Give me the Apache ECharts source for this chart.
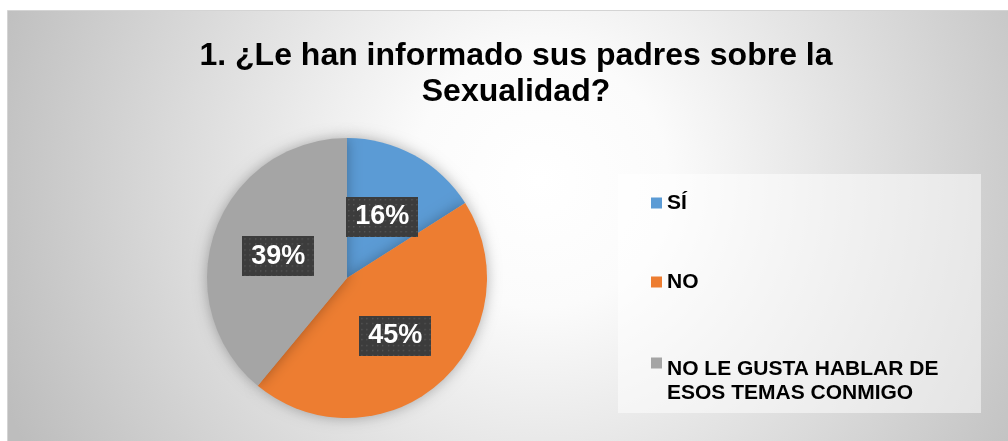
<!DOCTYPE html>
<html>
<head>
<meta charset="utf-8">
<script src="https://cdn.jsdelivr.net/npm/echarts@6/dist/echarts.min.js"></script>
<style>
html,body{margin:0;padding:0;background:#ffffff;}
#chart{width:1008px;height:441px;}
</style>
</head>
<body>
<div id="chart"></div>
<script>
var titleText = '1. ¿Le han informado sus padres sobre la\nSexualidad?';
var categories = ['SÍ', 'NO', 'NO LE GUSTA HABLAR DE\nESOS TEMAS CONMIGO'];
var values = [16, 45, 39];
var colors = ['#5B9BD5', '#ED7D31', '#A5A5A5'];

function makePattern(w, h) {
  var c = document.createElement('canvas');
  c.width = w; c.height = h;
  var ctx = c.getContext('2d');
  ctx.fillStyle = '#3c3c3c';
  ctx.fillRect(0, 0, w, h);
  ctx.fillStyle = '#575757';
  for (var y = 2; y < h; y += 5.3) {
    for (var x = 2; x < w; x += 5.3) {
      ctx.fillRect(Math.round(x), Math.round(y), 1.4, 1.4);
    }
  }
  return c;
}
var pattern = makePattern(73, 40);

var chart = echarts.init(document.getElementById('chart'));
var FONT = 'Arial, "Liberation Sans", sans-serif';

var legendTops = [191, 270, 321];
var legends = categories.map(function (name, i) {
  return {
    data: [name],
    orient: 'vertical',
    left: 651,
    top: legendTops[i],
    padding: 0,
    itemWidth: 11,
    itemHeight: 11,
    icon: 'rect',
    selectedMode: false,
    formatter: function (n) {
      var parts = n.split('\n');
      if (parts.length === 1) return '{t|' + n + '}';
      return '{gap| }\n' + parts.map(function (p) { return '{t|' + p + '}'; }).join('\n');
    },
    textStyle: {
      fontFamily: FONT,
      fontWeight: 'bold',
      fontSize: 21,
      lineHeight: 24,
      color: '#000000',
      rich: {
        t: { fontFamily: FONT, fontWeight: 'bold', fontSize: 21, lineHeight: 24, color: '#000000' },
        gap: { fontSize: 1, lineHeight: 36 }
      }
    }
  };
});

chart.setOption({
  animation: false,
  color: colors,
  graphic: [
    {
      type: 'rect',
      silent: true,
      z: -10,
      shape: { x: 7.5, y: 10.5, width: 1010, height: 440 },
      style: {
        fill: {
          type: 'radial', x: 540, y: 180, r: 580, global: true,
          colorStops: [
            { offset: 0, color: '#ffffff' },
            { offset: 0.22, color: '#fbfbfb' },
            { offset: 1, color: '#bdbdbd' }
          ]
        },
        stroke: '#d4d4d4',
        lineWidth: 1
      }
    },
    {
      type: 'rect',
      silent: true,
      z: -9,
      shape: { x: 618, y: 174, width: 363, height: 239 },
      style: { fill: 'rgba(255,255,255,0.5)' }
    }
  ],
  title: {
    text: titleText,
    left: 516,
    top: 38,
    padding: 0,
    textAlign: 'center',
    textStyle: {
      fontFamily: FONT,
      fontWeight: 'bold',
      fontSize: 32,
      lineHeight: 36,
      color: '#000000'
    }
  },
  legend: legends,
  series: [{
    type: 'pie',
    center: [347, 278],
    radius: 140,
    startAngle: 90,
    clockwise: true,
    label: {
      show: true,
      position: 'inside',
      formatter: '{c}%',
      offset: [0, 3],
      fontFamily: FONT,
      fontWeight: 'bold',
      fontSize: 27,
      lineHeight: 26,
      color: '#ffffff',
      backgroundColor: { image: pattern },
      padding: [8, 9, 6, 9],
      shadowColor: 'rgba(0,0,0,0.55)',
      shadowBlur: 6,
      shadowOffsetX: 3,
      shadowOffsetY: 3
    },
    labelLine: { show: false },
    itemStyle: {
      shadowColor: 'rgba(0,0,0,0.3)',
      shadowBlur: 14
    },
    emphasis: { disabled: true },
    data: categories.map(function (n, i) { return { name: n, value: values[i] }; })
  }]
});
</script>
</body>
</html>
